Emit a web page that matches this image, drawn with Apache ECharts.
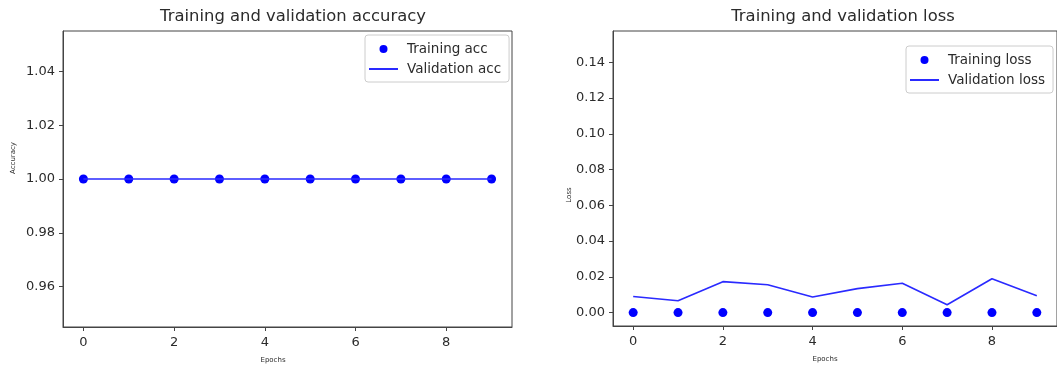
<!DOCTYPE html>
<html>
<head>
<meta charset="utf-8">
<script src="https://cdn.jsdelivr.net/npm/echarts@6/dist/echarts.min.js"></script>
<style>
  html, body { margin: 0; padding: 0; background: #fff; }
  #main { width: 1057px; height: 366px; }
</style>
</head>
<body>
<div id="main"></div>
<script>
var epochs = [0, 1, 2, 3, 4, 5, 6, 7, 8, 9];
var trainAcc = [1, 1, 1, 1, 1, 1, 1, 1, 1, 1];
var valAcc = [1, 1, 1, 1, 1, 1, 1, 1, 1, 1];
var trainLoss = [0, 0, 0, 0, 0, 0, 0, 0, 0, 0];
var valLoss = [0.0090, 0.0066, 0.0173, 0.0156, 0.0087, 0.0134, 0.0164, 0.0044, 0.0189, 0.0094];
var xTicks = [0, 2, 4, 6, 8];
var accTicks = [0.96, 0.98, 1.00, 1.02, 1.04];
var lossTicks = [0.00, 0.02, 0.04, 0.06, 0.08, 0.10, 0.12, 0.14];

function pairs(ys) {
  return epochs.map(function (e, i) { return [e, ys[i]]; });
}

var font = 'DejaVu Sans';
var ink = '#2b2b2b';
var blue = '#0000ff';
var lineBlue = '#2a2aff';
var lineIcon = 'path://M0,0H29V2H0Z';

function xAxisFor(grid) {
  return {
    type: 'value', gridIndex: grid, min: -0.45, max: 9.45,
    splitLine: { show: false },
    axisLine: { show: true, onZero: false, lineStyle: { color: '#444' } },
    axisTick: { show: true, length: 4, customValues: xTicks, lineStyle: { color: '#444' } },
    axisLabel: { customValues: xTicks, margin: 9, fontSize: 13, color: ink, fontFamily: font }
  };
}

function yAxisFor(grid, min, max, ticks) {
  return {
    type: 'value', gridIndex: grid, min: min, max: max,
    splitLine: { show: false },
    axisLine: { show: true, onZero: false, lineStyle: { color: '#444' } },
    axisTick: { show: true, length: 4, customValues: ticks, lineStyle: { color: '#444' } },
    axisLabel: {
      customValues: ticks, margin: 8, fontSize: 13, color: ink, fontFamily: font,
      formatter: function (v) { return v.toFixed(2); }
    }
  };
}

function legendFor(names, left, top) {
  return {
    data: [
      { name: names[0], icon: 'circle' },
      { name: names[1], icon: lineIcon }
    ],
    orient: 'vertical', left: left, top: top,
    itemWidth: 29, itemHeight: 8, itemGap: 6,
    padding: [7, 8, 6, 4],
    borderColor: '#ccc', borderWidth: 1, borderRadius: 3,
    backgroundColor: 'rgba(255,255,255,0.8)',
    textStyle: { fontSize: 13.5, color: ink, fontFamily: font, padding: [0, 0, 0, 4] }
  };
}

var chart = echarts.init(document.getElementById('main'));
chart.setOption({
  animation: false,
  title: [
    { text: 'Training and validation accuracy', left: 288, top: 4, textAlign: 'center',
      textStyle: { fontSize: 16.4, fontWeight: 'normal', color: ink, fontFamily: font } },
    { text: 'Training and validation loss', left: 838, top: 4, textAlign: 'center',
      textStyle: { fontSize: 16.4, fontWeight: 'normal', color: ink, fontFamily: font } }
  ],
  grid: [
    { left: 63, top: 31, width: 449, height: 296, show: true, borderColor: '#444', borderWidth: 1 },
    { left: 613, top: 31, width: 451, height: 295, show: true, borderColor: '#444', borderWidth: 1 }
  ],
  legend: [
    legendFor(['Training acc', 'Validation acc'], 365, 35),
    legendFor(['Training loss', 'Validation loss'], 906, 46)
  ],
  xAxis: [xAxisFor(0), xAxisFor(1)],
  yAxis: [
    yAxisFor(0, 0.945, 1.055, accTicks),
    yAxisFor(1, -0.0075, 0.1575, lossTicks)
  ],
  graphic: [
    { type: 'text', x: 13, y: 158, rotation: Math.PI / 2,
      style: { text: 'Accuracy', fontSize: 7, fill: ink, fontFamily: font, align: 'center', verticalAlign: 'middle' } },
    { type: 'text', x: 273, y: 360,
      style: { text: 'Epochs', fontSize: 7, fill: ink, fontFamily: font, align: 'center', verticalAlign: 'middle' } },
    { type: 'text', x: 569, y: 195, rotation: Math.PI / 2,
      style: { text: 'Loss', fontSize: 7, fill: ink, fontFamily: font, align: 'center', verticalAlign: 'middle' } },
    { type: 'text', x: 825, y: 359,
      style: { text: 'Epochs', fontSize: 7, fill: ink, fontFamily: font, align: 'center', verticalAlign: 'middle' } }
  ],
  series: [
    { name: 'Training acc', type: 'scatter', xAxisIndex: 0, yAxisIndex: 0,
      symbol: 'circle', symbolSize: 9, itemStyle: { color: blue, opacity: 1 }, data: pairs(trainAcc) },
    { name: 'Validation acc', type: 'line', xAxisIndex: 0, yAxisIndex: 0,
      symbol: 'none', lineStyle: { color: lineBlue, width: 1.6 }, itemStyle: { color: lineBlue },
      data: pairs(valAcc) },
    { name: 'Training loss', type: 'scatter', xAxisIndex: 1, yAxisIndex: 1,
      symbol: 'circle', symbolSize: 9, itemStyle: { color: blue, opacity: 1 }, data: pairs(trainLoss) },
    { name: 'Validation loss', type: 'line', xAxisIndex: 1, yAxisIndex: 1,
      symbol: 'none', lineStyle: { color: lineBlue, width: 1.6 }, itemStyle: { color: lineBlue },
      data: pairs(valLoss) }
  ]
});
</script>
</body>
</html>
